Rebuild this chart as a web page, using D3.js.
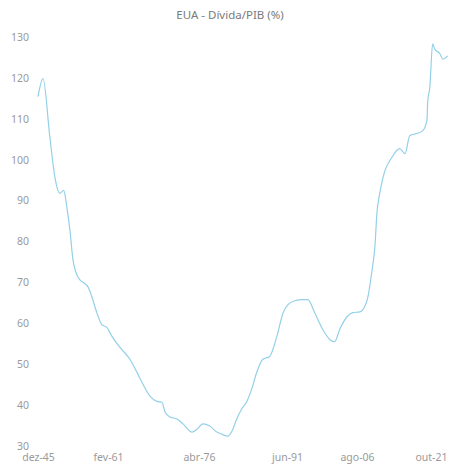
<!DOCTYPE html>
<html>
<head>
<meta charset="utf-8">
<script src="https://cdn.jsdelivr.net/npm/d3@7"></script>
<style>
  html, body { margin: 0; padding: 0; background: #ffffff; }
  svg { display: block; }
</style>
</head>
<body>
<div id="chart"></div>
<script>
// ---- Data ----
const title = "EUA - Dívida/PIB (%)";
const dates = [
  "1945-12","1947-01","1948-07","1949-08","1950-09","1951-07","1952-03","1952-11","1953-07","1954-02",
  "1955-01","1955-11","1956-10","1957-08","1958-09","1959-10","1960-11","1961-10","1963-02","1964-10",
  "1965-12","1966-12","1968-02","1969-04","1970-02","1970-08","1971-06","1972-08","1973-08","1975-02",
  "1975-12","1976-12","1978-02","1979-05","1980-03","1981-04","1981-12","1982-10","1983-08","1984-07",
  "1985-05","1986-04","1987-04","1988-06","1989-09","1990-10","1991-08","1993-02","1994-09","1995-12",
  "1997-06","1999-03","2000-10","2001-10","2002-11","2004-06","2005-09","2007-03","2007-10","2008-11",
  "2009-08","2010-04","2010-09","2011-04","2011-12","2013-10","2015-05","2016-06","2017-06","2018-11",
  "2020-02","2020-12","2021-02","2021-07","2022-02","2022-07","2023-08","2024-03","2025-03"
];
const debtToGdp = [
  115.4,119.8,105.4,95.7,91.8,92.5,88.4,82.8,75.5,72.6,
  70.6,69.9,68.9,66.5,62.6,59.7,59.0,56.8,54.1,51.2,
  48.0,45.1,42.2,40.9,40.7,38.3,37.1,36.6,35.4,33.4,
  34.1,35.4,34.9,33.4,32.9,32.4,33.6,36.6,39.0,40.9,
  43.9,48.2,51.2,51.9,56.8,62.6,64.5,65.5,65.8,65.8,
  62.6,58.5,56.0,55.5,58.5,61.6,62.6,62.8,63.3,66.5,
  72.3,78.7,86.9,91.8,95.7,100.6,102.7,101.5,105.9,106.4,
  107.1,109.6,114.4,117.6,128.3,127.1,125.9,124.6,125.4
];
const xTickDates = ["1945-12","1961-02","1976-04","1991-06","2006-08","2021-10"];
const xTickLabels = ["dez-45","fev-61","abr-76","jun-91","ago-06","out-21"];
const yTicks = [30,40,50,60,70,80,90,100,110,120,130];

// ---- Layout ----
const W = 455, H = 469;
const parse = d3.timeParse("%Y-%m");
const data = dates.map((d, i) => ({ date: parse(d), value: debtToGdp[i] }));
const tickDates = xTickDates.map(parse);

const svg = d3.select("#chart").append("svg")
  .attr("width", W).attr("height", H)
  .style("font-family", "'Noto Sans', 'Open Sans', sans-serif");

// Category-like axis positions measured from the label layout
const x = d3.scaleTime()
  .domain(tickDates)
  .range([38, 108, 199, 287, 357, 431]);

const y = d3.scaleLinear().domain([30, 130]).range([446, 37]);

// Title
svg.append("text")
  .attr("x", 230).attr("y", 19)
  .attr("text-anchor", "middle")
  .attr("fill", "#7a7a7a")
  .style("font-size", "11.5px")
  .text(title);

// Y axis
const yAxis = svg.append("g")
  .attr("transform", "translate(29,0)")
  .call(d3.axisLeft(y).tickValues(yTicks).tickSize(0).tickPadding(0));
yAxis.select(".domain").remove();
yAxis.selectAll("text").attr("fill", "#9a9a9a").style("font-size", "10.5px")
  .style("font-family", "'Noto Sans', 'Open Sans', sans-serif");

// X axis
const xAxis = svg.append("g")
  .attr("transform", "translate(0,451)")
  .call(d3.axisBottom(x).tickValues(tickDates)
    .tickFormat((d, i) => xTickLabels[i]).tickSize(0).tickPadding(3));
xAxis.select(".domain").remove();
xAxis.selectAll("text").attr("fill", "#9a9a9a").style("font-size", "10.5px")
  .style("font-family", "'Noto Sans', 'Open Sans', sans-serif");

// Line
const line = d3.line()
  .x(d => x(d.date))
  .y(d => y(d.value))
  .curve(d3.curveMonotoneX);

svg.append("path")
  .datum(data)
  .attr("fill", "none")
  .attr("stroke", "#93d0e8")
  .attr("stroke-width", 1.2)
  .attr("stroke-linejoin", "round")
  .attr("d", line);
</script>
</body>
</html>
